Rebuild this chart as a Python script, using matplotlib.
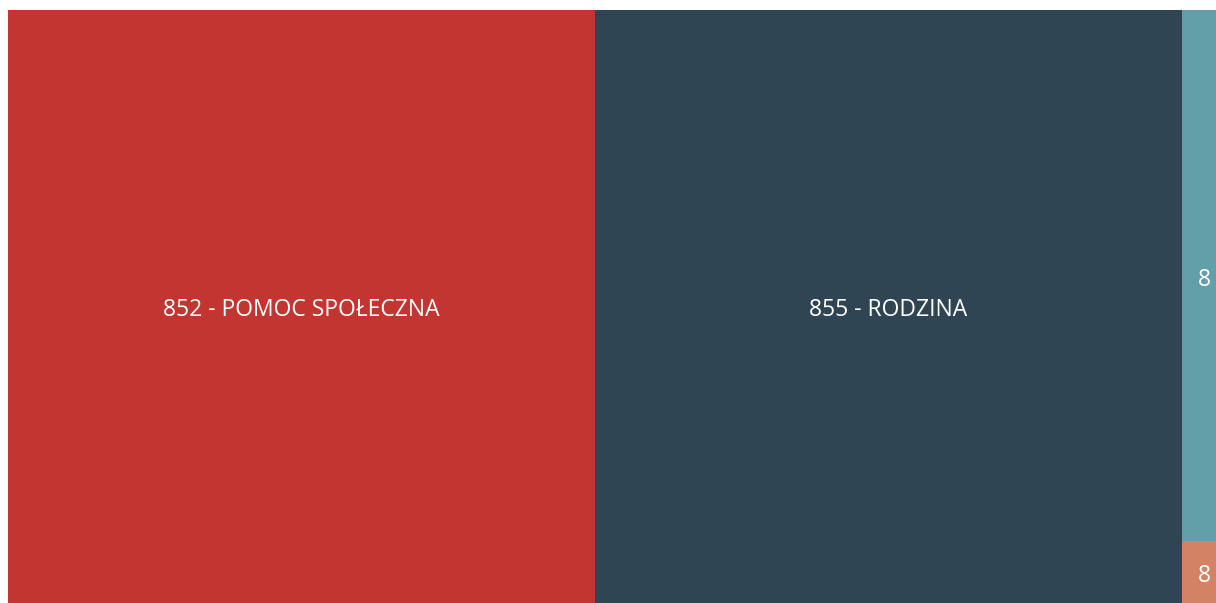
import matplotlib
matplotlib.use("Agg")
import matplotlib.pyplot as plt
import matplotlib.patches as mpatches
import matplotlib.transforms as mtransforms
from matplotlib.transforms import Bbox

# treemap data (values in mln zł)
labels = ["852 - POMOC SPOŁECZNA", "855 - RODZINA",
          "851 - OCHRONA ZDROWIA", "853 - POZOSTAŁE ZADANIA"]
values = [58.7, 58.7, 4.3, 0.5]
colors = ["#c23531", "#2f4554", "#61a0a8", "#d48265"]
# which column each block goes into (slice-and-dice layout)
columns = [0, 1, 2, 2]

W, H = 1216, 603
fig = plt.figure(figsize=(W / 100, H / 100), dpi=100)

# axes extends past the right edge of the figure, like the cropped screenshot
total = sum(values)
px_per_unit = 1174 / (values[0] + values[1])
ax_w = total * px_per_unit
ax = fig.add_axes([8 / W, 0, ax_w / W, 593 / H])
ax.set_xlim(0, total)
ax.set_ylim(0, 1)
ax.axis("off")

# nudge labels a few pixels down
shift = mtransforms.offset_copy(ax.transData, fig=fig, x=0, y=-4, units="dots")

col_sums = {}
for c, v in zip(columns, values):
    col_sums[c] = col_sums.get(c, 0) + v

x0 = 0
for c in sorted(col_sums):
    cw = col_sums[c]
    y_top = 1.0
    for lab, v, col, cc in zip(labels, values, colors, columns):
        if cc != c:
            continue
        h = v / cw
        rect = mpatches.Rectangle((x0, y_top - h), cw, h, facecolor=col,
                                  edgecolor="none")
        ax.add_patch(rect)
        txt_x = x0 + cw / 2
        ha = "center"
        if c == 2:
            txt_x = x0 + 16 / px_per_unit
            ha = "left"
        t = ax.text(txt_x, y_top - h / 2, lab, color="white", fontsize=16.5,
                    ha=ha, va="center", family="Open Sans", transform=shift)
        if c == 2:
            # narrow cell: label truncated, only first character shows
            xa, ya = ax.transData.transform((x0, 0))
            t.set_clip_box(Bbox.from_extents(xa, 0, 1212, H))
            t.set_clip_on(True)
        y_top -= h
    x0 += cw

fig.savefig("out.png", dpi=100)
